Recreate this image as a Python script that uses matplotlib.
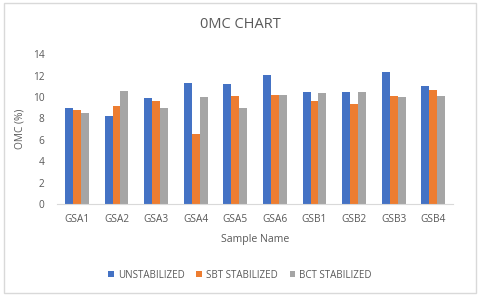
import matplotlib
matplotlib.use("Agg")
import matplotlib.pyplot as plt
import numpy as np
from matplotlib.patches import Rectangle

categories = ["GSA1", "GSA2", "GSA3", "GSA4", "GSA5", "GSA6", "GSB1", "GSB2", "GSB3", "GSB4"]
unstabilized = [8.95, 8.2, 9.88, 11.28, 11.18, 12.09, 10.47, 10.47, 12.3, 11.03]
sbt_stabilized = [8.78, 9.16, 9.6, 6.57, 10.09, 10.19, 9.66, 9.38, 10.09, 10.69]
bct_stabilized = [8.47, 10.56, 8.94, 9.97, 8.94, 10.19, 10.34, 10.47, 9.97, 10.09]
yticks = [0, 2, 4, 6, 8, 10, 12, 14]

plt.rcParams['font.family'] = ['Open Sans', 'DejaVu Sans']
txt = '#595959'

fig = plt.figure(figsize=(4.8, 2.99), dpi=100)
fig.patches.append(Rectangle((4/480, 6/299), 472/480, 290/299, transform=fig.transFigure,
                             fill=False, edgecolor='#d9d9d9', linewidth=1))
ax = fig.add_axes([0.119, 0.318, 0.825, 0.501])

x = np.arange(len(categories))
w = 0.2
ax.bar(x - w, unstabilized, w, color='#4472C4', label='UNSTABILIZED')
ax.bar(x, sbt_stabilized, w, color='#ED7D31', label='SBT STABILIZED')
ax.bar(x + w, bct_stabilized, w, color='#A5A5A5', label='BCT STABILIZED')

ax.set_xlim(-0.5, len(categories) - 0.5)
ax.set_ylim(0, 14)
ax.set_yticks(yticks)
ax.set_xticks(x)
ax.set_xticklabels(categories)
for s in ['top', 'right', 'left']:
    ax.spines[s].set_visible(False)
ax.spines['bottom'].set_color('#d9d9d9')
ax.tick_params(axis='both', length=0, labelsize=7.3, colors=txt)
ax.tick_params(axis='x', pad=7)
ax.tick_params(axis='y', pad=9)

fig.text(0.5, 1 - 24/299, '0MC CHART', fontsize=10.5, color=txt, ha='center', va='center')
ax.set_xlabel('Sample Name', fontsize=7.6, color=txt, labelpad=7)
ax.set_ylabel('OMC (%)', fontsize=7.3, color=txt, labelpad=5)

fig.legend(loc='center', bbox_to_anchor=(0.5, 1 - 275/299), ncol=3, frameon=False,
           fontsize=7, handlelength=0.6, handleheight=0.6, handletextpad=0.4,
           columnspacing=1.2, labelcolor=txt)

fig.savefig('out.png', dpi=100)
